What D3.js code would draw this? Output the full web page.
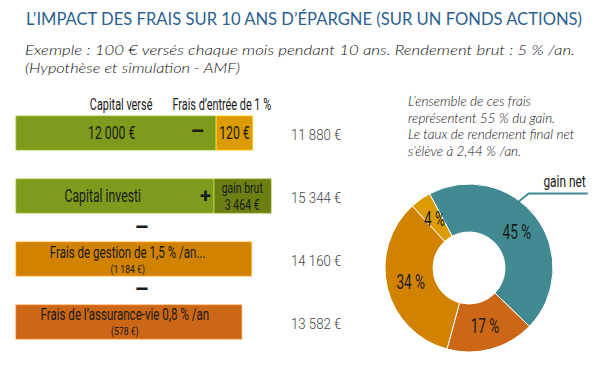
<!DOCTYPE html>
<html>
<head>
<meta charset="utf-8">
<script src="https://cdn.jsdelivr.net/npm/d3@7"></script>
<style>
  body { margin: 0; background: #fff; }
  .cond { font-family: Roboto, "Noto Sans", sans-serif; }
</style>
</head>
<body>
<div id="chart"></div>
<script>
// data
var titleText = "L\u2019IMPACT DES FRAIS SUR 10 ANS D\u2019\u00C9PARGNE (SUR UN FONDS ACTIONS)";
var subtitleLines = ["Exemple : 100 \u20AC vers\u00E9s chaque mois pendant 10 ans. Rendement brut : 5 % /an.",
                     "(Hypoth\u00E8se et simulation - AMF)"];
var noteLines = ["L\u2019ensemble de ces frais", "repr\u00E9sentent 55 % du gain.",
                 "Le taux de rendement final net", "s\u2019\u00E9l\u00E8ve \u00E0 2,44 % /an."];

var rows = ["verse", "investi", "gestion", "assurance"];
var rowTotals = [11880, 15344, 14160, 13582];
var rowTotalLabels = ["11 880 \u20AC", "15 344 \u20AC", "14 160 \u20AC", "13 582 \u20AC"];

var capitalVerse = 12000, fraisEntree = 120;
var capitalInvesti = 11880, gainBrut = 3464;
var fraisGestion = 1184, fraisAssurance = 578;

var pieNames = ["gain net", "frais de l\u2019assurance-vie", "frais de gestion", "frais d\u2019entr\u00E9e"];
var pieValues = [45, 17, 34, 4];

var green = "#7e9b1e", darkGreen = "#6b7f12", teal = "#418a92",
    orangeA = "#cb6716", orangeG = "#d08200", orangeE = "#dc9c00";

var width = 600, height = 376;
var svg = d3.select("#chart").append("svg")
    .attr("width", width).attr("height", height);

// titles
svg.append("text")
  .attr("x", 26).attr("y", 25)
  .attr("textLength", 556).attr("lengthAdjust", "spacingAndGlyphs")
  .style("font-family", "Lato, 'Open Sans', sans-serif")
  .style("font-size", "17px")
  .style("fill", "#2c5f8f")
  .text(titleText);

svg.selectAll(".sub")
  .data(subtitleLines)
  .enter().append("text")
    .attr("x", 25)
    .attr("y", function(d, i) { return 55 + i * 18; })
    .attr("textLength", function(d, i) { return i == 0 ? 550 : 215; })
    .attr("lengthAdjust", "spacingAndGlyphs")
    .style("font-family", "Lato, 'Open Sans', sans-serif")
    .style("font-style", "italic")
    .style("font-weight", 300)
    .style("font-size", "14px")
    .style("fill", "#111")
    .text(function(d) { return d; });

// bars
var x0 = 16;
var x = d3.scaleLinear()
  .domain([0, d3.max(rowTotals)])
  .range([0, 255]);

var y = d3.scaleBand()
  .domain(rows)
  .range([116, 339])
  .paddingInner(0.46);

var bw = y.bandwidth();

var segs = [
  {row: "verse", start: 0, value: capitalVerse, color: green},
  {row: "verse", start: capitalVerse, value: fraisEntree, color: orangeE, chip: true},
  {row: "investi", start: 0, value: capitalInvesti, color: green},
  {row: "investi", start: capitalInvesti, value: gainBrut, color: darkGreen},
  {row: "gestion", start: 0, value: rowTotals[2], color: orangeG},
  {row: "assurance", start: 0, value: rowTotals[3], color: orangeA}
];

var g = svg.append("g").attr("class", "cond");

g.selectAll("rect.bar")
  .data(segs)
  .enter().append("rect")
    .attr("class", "bar")
    .attr("x", function(d) { return x0 + x(d.start) + (d.start > 0 ? 1 : 0); })
    .attr("y", function(d) { return y(d.row); })
    .attr("width", function(d) { return d.chip ? 36 : x(d.value) - (d.start > 0 ? 1 : 0); })
    .attr("height", bw)
    .attr("fill", function(d) { return d.color; })
    .attr("stroke", function(d) { return d3.color(d.color).brighter(0.6); })
    .attr("stroke-width", 0.8);

// condensed text: squeeze horizontally around its anchor
function label(parent, txt, xx, yy, size, anchor, sx, color) {
  return parent.append("text")
    .attr("transform", "translate(" + xx + "," + yy + ") scale(" + (sx || 0.68) + ",1)")
    .attr("text-anchor", anchor || "middle")
    .style("font-size", size + "px")
    .style("fill", color || "#1a1a1a")
    .text(txt);
}

var endVerse = x0 + x(capitalVerse);
var endInvesti = x0 + x(capitalInvesti);
var cy = function(r) { return y(r) + bw / 2; };

// headers
label(g, "Capital vers\u00E9", endVerse - 63, 110, 16, "end");
label(g, "Frais d\u2019entr\u00E9e de 1 %", endVerse - 43, 110, 16, "start");

// row 1
label(g, "12 000 \u20AC", (x0 + endVerse) / 2 - 4, cy("verse") + 6, 18);
label(g, "\u2013", endVerse - 18, cy("verse") + 6, 22, "middle", 1).style("font-weight", "bold");
label(g, "120 \u20AC", endVerse + 19, cy("verse") + 6, 18);

// row 2
label(g, "Capital investi", (x0 + endInvesti) / 2 - 12, cy("investi") + 6, 18);
label(g, "+", endInvesti - 8, cy("investi") + 7, 20, "middle", 1).style("font-weight", "bold");
var gainMid = (endInvesti + x0 + x(capitalInvesti + gainBrut)) / 2;
label(g, "gain brut", gainMid, cy("investi") - 3, 14, "middle", 0.75);
label(g, "3 464 \u20AC", gainMid, cy("investi") + 14, 14, "middle", 0.75);

// rows 3 and 4
var endG = x0 + x(rowTotals[2]), endA = x0 + x(rowTotals[3]);
label(g, "Frais de gestion de 1,5 % /an...", (x0 + endG) / 2 - 6, y("gestion") + 16, 17);
label(g, "(1 184 \u20AC)", (x0 + endG) / 2 - 6, y("gestion") + 31.5, 11.5, "middle", 0.75);
label(g, "Frais de l\u2019assurance-vie 0,8 % /an", (x0 + endA) / 2 - 4, y("assurance") + 15, 17);
label(g, "(578 \u20AC)", (x0 + endA) / 2 - 4, y("assurance") + 30.5, 11.5, "middle", 0.75);

// minus signs between rows
["gestion", "assurance"].forEach(function(r) {
  label(g, "\u2013", (x0 + endG) / 2 + 8, y(r) - (y.step() - bw) / 2 + 7, 22, "middle", 1).style("font-weight", "bold");
});

// totals on the right
rows.forEach(function(r, i) {
  label(g, rowTotalLabels[i], x0 + x(d3.max(rowTotals)) + 20, cy(r) + 7, 15, "start", 0.88, "#444")
    .style("font-weight", 300);
});

// note
svg.selectAll(".note")
  .data(noteLines)
  .enter().append("text")
    .attr("x", 408)
    .attr("y", function(d, i) { return 106 + i * 16.7; })
    .style("font-family", "Lato, 'Open Sans', sans-serif")
    .style("font-style", "italic")
    .style("font-weight", 300)
    .style("font-size", "13.5px")
    .style("fill", "#111")
    .text(function(d) { return d; });

// donut
var pieCx = 469, pieCy = 268, rOut = 84, rIn = 36;
var pieColors = d3.scaleOrdinal().domain(pieNames).range([teal, orangeA, orangeG, orangeE]);
var a0 = -28 * Math.PI / 180;
var pie = d3.pie().sort(null).startAngle(a0).endAngle(a0 + 2 * Math.PI)
  .value(function(d) { return d.value; });
var pieData = pie(pieNames.map(function(n, i) { return {name: n, value: pieValues[i]}; }));
var arc = d3.arc().innerRadius(rIn).outerRadius(rOut);

var pg = svg.append("g").attr("class", "cond")
  .attr("transform", "translate(" + pieCx + "," + pieCy + ")");

pg.selectAll("path")
  .data(pieData)
  .enter().append("path")
    .attr("d", arc)
    .attr("fill", function(d) { return pieColors(d.data.name); })
    .attr("stroke", "#fff")
    .attr("stroke-width", 1);

pieData.forEach(function(d) {
  var c = arc.centroid(d);
  label(pg, d.data.value + " %", c[0], c[1] + 7, 20, "middle", 0.68);
});

// leader for gain net
var gn = pieData[0];
var la = gn.startAngle + (gn.endAngle - gn.startAngle) * 0.4;
var p1 = [Math.sin(la) * (rOut - 1), -Math.cos(la) * (rOut - 1)];
var p2 = [p1[0] + 10, p1[1] - 8];
pg.append("polyline")
  .attr("points", [p1, p2, [p2[0] + 59, p2[1]]].map(function(p) { return p.join(","); }).join(" "))
  .attr("fill", "none")
  .attr("stroke", teal)
  .attr("stroke-width", 2);
label(pg, gn.data.name, p2[0] + 57, p2[1] - 7, 17, "end", 0.7);
</script>
</body>
</html>
